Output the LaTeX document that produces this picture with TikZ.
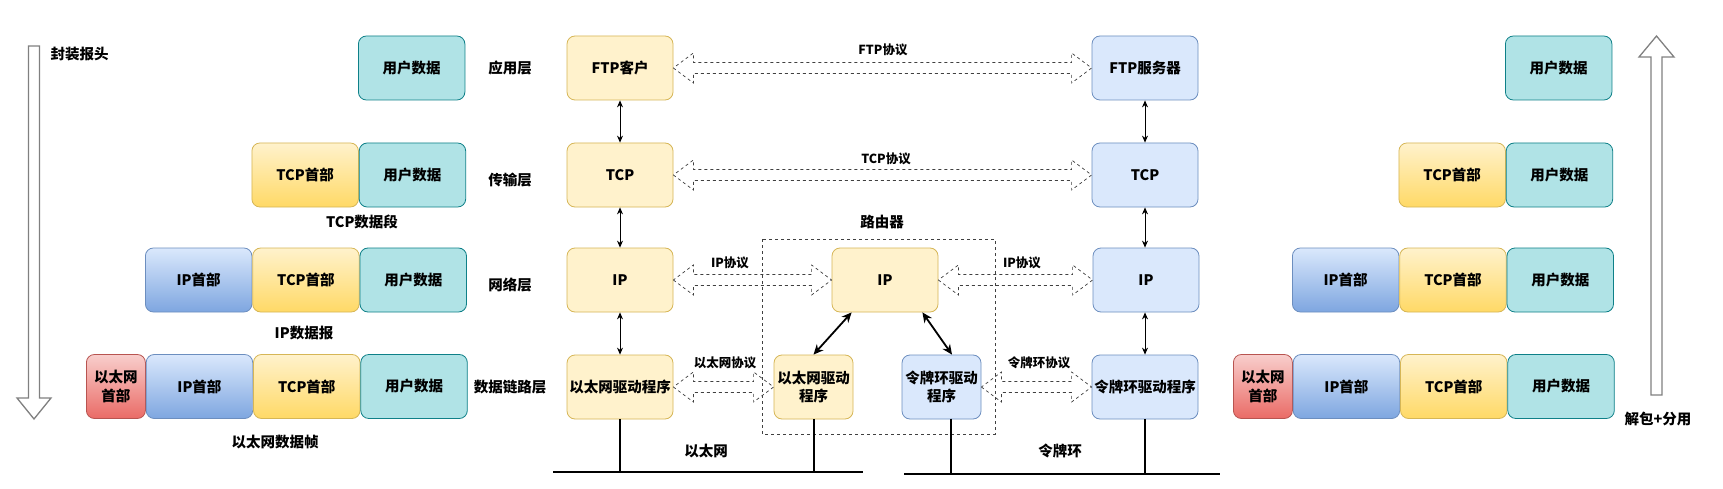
\documentclass[tikz,border=0pt]{standalone}
\usepackage{fontspec}
\setmainfont{Noto Sans CJK SC}
\usetikzlibrary{arrows.meta,calc}
\definecolor{udfill}{HTML}{B0E3E6}
\definecolor{uddraw}{HTML}{0E8088}
\definecolor{yfill}{HTML}{FFF2CC}
\definecolor{ydraw}{HTML}{D6B656}
\definecolor{ydark}{HTML}{FFD966}
\definecolor{bfill}{HTML}{DAE8FC}
\definecolor{bdraw}{HTML}{6C8EBF}
\definecolor{bdark}{HTML}{7EA6E0}
\definecolor{rfill}{HTML}{F8CECC}
\definecolor{rdark}{HTML}{EA6B66}
\definecolor{rdraw}{HTML}{B85450}
\newcommand{\dblarrow}[2]{%
  \draw[blockarr] let \p1=(#1), \p2=(#2) in
  (\x1,\y1) -- (\x1+20pt,\y1-15pt) -- (\x1+20pt,\y1-5.5pt) -- (\x2-20pt,\y1-5.5pt) -- (\x2-20pt,\y1-15pt) -- (\x2,\y1)
  -- (\x2-20pt,\y1+15pt) -- (\x2-20pt,\y1+5.5pt) -- (\x1+20pt,\y1+5.5pt) -- (\x1+20pt,\y1+15pt) -- cycle;}
\begin{document}
\begin{tikzpicture}[x=1pt,y=-1pt,
  font=\bfseries\fontsize{14.5}{18.5}\selectfont,
  box/.style={rounded corners=8pt, minimum height=64pt, inner sep=0pt, align=center, line width=0.8pt},
  udbox/.style={box, fill=udfill, draw=uddraw, minimum width=106.5pt},
  tcpbox/.style={box, draw=ydraw, top color=yfill, bottom color=ydark, minimum width=106.5pt},
  ipbox/.style={box, draw=bdraw, top color=bfill, bottom color=bdark, minimum width=106.5pt},
  ethbox/.style={box, draw=rdraw, top color=rfill, bottom color=rdark, minimum width=59pt},
  ylayer/.style={box, fill=yfill, draw=ydraw, minimum width=106pt},
  blayer/.style={box, fill=bfill, draw=bdraw, minimum width=106pt},
  lbl/.style={inner sep=0pt},
  plbl/.style={inner sep=0pt, font=\bfseries\fontsize{12.5}{15}\selectfont},
  tarr/.style={line width=0.8pt, {Stealth[length=7pt,width=6pt]}-{Stealth[length=7pt,width=6pt]}},
  darr/.style={line width=1.8pt, {Stealth[length=10pt,width=9pt]}-{Stealth[length=10pt,width=9pt]}},
  blockarr/.style={draw=black!75, dash pattern=on 3pt off 3pt, line width=0.7pt},
  bus/.style={line width=2pt},
  bigarrow/.style={draw=black!50, fill=white, line width=1.3pt}]
\useasboundingbox[fill=white] (0,0) rectangle (1723,489);

% big arrows
\draw[bigarrow] (28.5,46) -- (39.5,46) -- (39.5,398) -- (51,398) -- (34,419) -- (17,398) -- (28.5,398) -- cycle;
\draw[bigarrow] (1651,395) -- (1662,395) -- (1662,57) -- (1674,57) -- (1656.5,36) -- (1639,57) -- (1651,57) -- cycle;
\node[lbl] (encap) at (79.5,54) {封装报头};
\node[lbl] (decap) at (1658,419) {解包+分用};

% left stacks
\node[udbox, anchor=west] (lu1) at (358,68) {用户数据};
\node[tcpbox, anchor=west] (lt2) at (251.5,175) {TCP首部};
\node[udbox, anchor=west] (lu2) at (lt2.east) {用户数据};
\node[ipbox, anchor=west] (li3) at (145,280) {IP首部};
\node[tcpbox, anchor=west] (lt3) at (li3.east) {TCP首部};
\node[udbox, anchor=west] (lu3) at (lt3.east) {用户数据};
\node[ethbox, anchor=west] (le4) at (86,386.5) {以太网\\首部};
\node[ipbox, anchor=west] (li4) at (le4.east) {IP首部};
\node[tcpbox, anchor=west] (lt4) at (li4.east) {TCP首部};
\node[udbox, anchor=west] (lu4) at (lt4.east) {用户数据};
\node[lbl] (seg) at (362,222) {TCP数据段};
\node[lbl] (dgram) at (304,333) {IP数据报};
\node[lbl] (frame) at (275,442) {以太网数据帧};

% right stacks
\node[udbox, anchor=west] (ru1) at (1505,68) {用户数据};
\node[tcpbox, anchor=west] (rt2) at (1398.5,175) {TCP首部};
\node[udbox, anchor=west] (ru2) at (rt2.east) {用户数据};
\node[ipbox, anchor=west] (ri3) at (1292,280) {IP首部};
\node[tcpbox, anchor=west] (rt3) at (ri3.east) {TCP首部};
\node[udbox, anchor=west] (ru3) at (rt3.east) {用户数据};
\node[ethbox, anchor=west] (re4) at (1233,386.5) {以太网\\首部};
\node[ipbox, anchor=west] (ri4) at (re4.east) {IP首部};
\node[tcpbox, anchor=west] (rt4) at (ri4.east) {TCP首部};
\node[udbox, anchor=west] (ru4) at (rt4.east) {用户数据};

% layer labels
\node[lbl] (lapp) at (510,68) {应用层};
\node[lbl] (ltra) at (510,180) {传输层};
\node[lbl] (lnet) at (510,285) {网络层};
\node[lbl] (llnk) at (510,387) {数据链路层};

% client column
\node[ylayer] (ftpc) at (620,68) {FTP客户};
\node[ylayer] (tcpc) at (620,175) {TCP};
\node[ylayer] (ipc) at (620,280) {IP};
\node[ylayer] (ethc) at (620,387) {以太网驱动程序};

% server column
\node[blayer] (ftps) at (1145,68) {FTP服务器};
\node[blayer] (tcps) at (1145,175) {TCP};
\node[blayer] (ips) at (1146,280) {IP};
\node[blayer] (toks) at (1145,387) {令牌环驱动程序};

% router
\draw[blockarr] (762,239) rectangle (995,434);
\node[lbl] (rlabel) at (882,222) {路由器};
\node[ylayer] (rip) at (885,280) {IP};
\node[box, fill=yfill, draw=ydraw, minimum width=79pt] (reth) at (813.5,387) {以太网驱动\\程序};
\node[box, fill=bfill, draw=bdraw, minimum width=79pt] (rtok) at (941.5,387) {令牌环驱动\\程序};

% vertical arrows
\draw[tarr] (ftpc) -- (tcpc);
\draw[tarr] (tcpc) -- (ipc);
\draw[tarr] (ipc) -- (ethc);
\draw[tarr] (ftps) -- (tcps);
\draw[tarr] (tcps.south) -- (ips.north -| tcps.south);
\draw[tarr] (ips.south -| toks.north) -- (toks.north);
\draw[darr] ($(rip.south west)+(20,0)$) -- (reth.north);
\draw[darr] ($(rip.south east)+(-16,0)$) -- ($(rtok.north)+(10.5,0)$);

% protocol block arrows
\dblarrow{ftpc.east}{ftps.west}
\dblarrow{tcpc.east}{tcps.west}
\dblarrow{ipc.east}{rip.west}
\dblarrow{rip.east}{ips.west}
\dblarrow{ethc.east}{reth.west}
\dblarrow{rtok.east}{toks.west}
\node[plbl] (pftp) at (883,50) {FTP协议};
\node[plbl] (ptcp) at (886,159) {TCP协议};
\node[plbl] (pip1) at (730,263) {IP协议};
\node[plbl] (pip2) at (1022,263) {IP协议};
\node[plbl] (peth) at (725,363) {以太网协议};
\node[plbl] (ptok) at (1039,363) {令牌环协议};

% buses
\coordinate (ebusL) at (553,472);
\coordinate (ebusR) at (863,472);
\coordinate (tbusL) at (904,474);
\coordinate (tbusR) at (1220,474);
\coordinate (rtokdrop) at (951,418.5);
\draw[bus] (ebusL) -- (ebusR);
\draw[bus] (tbusL) -- (tbusR);
\draw[bus] (ethc.south) -- (ethc.south |- ebusL);
\draw[bus] (reth.south) -- (reth.south |- ebusL);
\draw[bus] (rtokdrop) -- (rtokdrop |- tbusL);
\draw[bus] (toks.south) -- (toks.south |- tbusL);
\node[lbl] (neth) at (706,451) {以太网};
\node[lbl] (ntok) at (1060,451) {令牌环};
\end{tikzpicture}
\end{document}
